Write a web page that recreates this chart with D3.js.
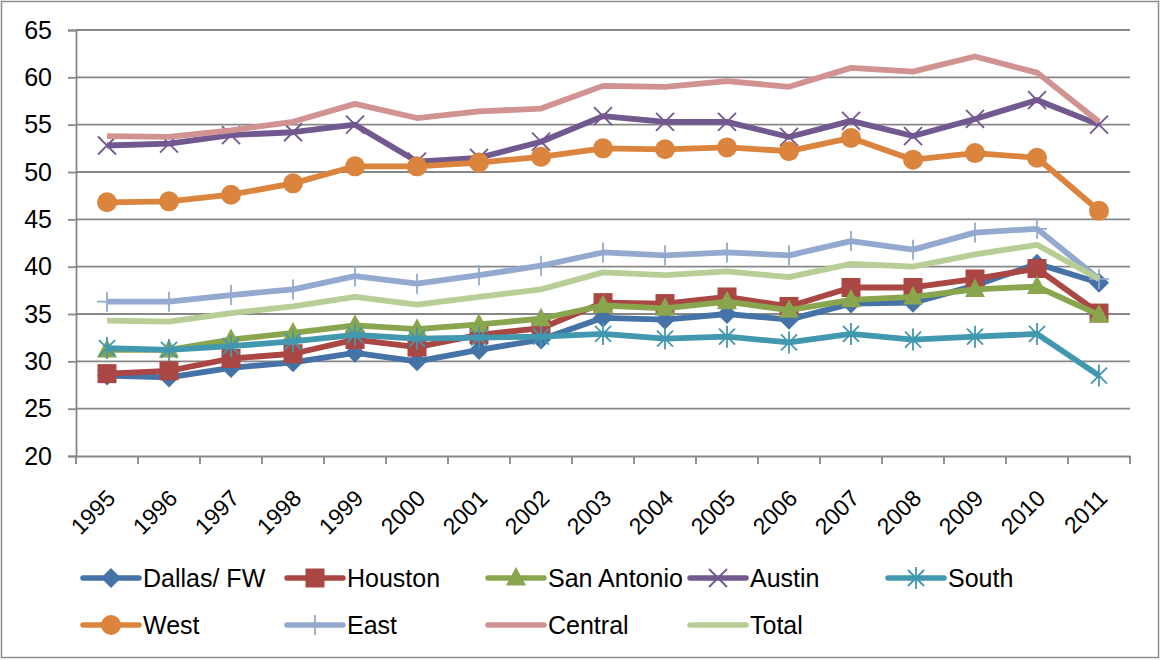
<!doctype html>
<html lang="en">
<head>
  <meta charset="utf-8">
  <style>
    body { margin: 0; background: #fff; }
    svg text { font-family: "Liberation Sans", Arial, sans-serif; fill: #000; }
  </style>
</head>
<body>
  <script src="https://d3js.org/d3.v7.min.js"></script>
  <div id="chart"></div>
  <script>
    // data
    var years = ["1995","1996","1997","1998","1999","2000","2001","2002","2003",
                 "2004","2005","2006","2007","2008","2009","2010","2011"];
    var yTicks = [20, 25, 30, 35, 40, 45, 50, 55, 60, 65];

    var dallas     = [28.5, 28.3, 29.3, 29.9, 30.9, 30.0, 31.2, 32.3, 34.6, 34.4, 35.0, 34.4, 36.1, 36.2, 38.0, 40.3, 38.3];
    var houston    = [28.7, 29.0, 30.3, 30.8, 32.3, 31.5, 32.8, 33.5, 36.2, 36.1, 36.8, 35.8, 37.8, 37.8, 38.7, 39.8, 35.1];
    var sanAntonio = [31.2, 31.2, 32.3, 33.0, 33.8, 33.4, 33.9, 34.5, 35.9, 35.6, 36.3, 35.4, 36.5, 36.8, 37.6, 37.9, 34.9];
    var austin     = [52.8, 53.0, 53.9, 54.2, 55.0, 51.1, 51.5, 53.2, 55.9, 55.3, 55.3, 53.7, 55.4, 53.8, 55.6, 57.6, 55.0];
    var south      = [31.4, 31.2, 31.6, 32.1, 32.8, 32.4, 32.5, 32.6, 32.9, 32.4, 32.6, 32.0, 32.9, 32.3, 32.6, 32.9, 28.5];
    var west       = [46.8, 46.9, 47.6, 48.8, 50.6, 50.6, 51.0, 51.6, 52.5, 52.4, 52.6, 52.2, 53.6, 51.3, 52.0, 51.5, 45.9];
    var east       = [36.3, 36.3, 37.0, 37.6, 39.0, 38.2, 39.1, 40.1, 41.5, 41.2, 41.5, 41.2, 42.7, 41.8, 43.6, 44.0, 38.7];
    var central    = [53.8, 53.7, 54.4, 55.3, 57.2, 55.7, 56.4, 56.7, 59.1, 59.0, 59.6, 59.0, 61.0, 60.6, 62.2, 60.5, 55.3];
    var total      = [34.3, 34.2, 35.1, 35.8, 36.8, 36.0, 36.8, 37.6, 39.4, 39.1, 39.5, 38.9, 40.3, 40.0, 41.3, 42.3, 38.7];

    var series = [
      {name: "Dallas/ FW",  values: dallas,     color: "#4572A7", marker: "diamond"},
      {name: "Houston",     values: houston,    color: "#AA4643", marker: "square"},
      {name: "San Antonio", values: sanAntonio, color: "#89A54E", marker: "triangle"},
      {name: "Austin",      values: austin,     color: "#71588F", marker: "x"},
      {name: "South",       values: south,      color: "#4198AF", marker: "star"},
      {name: "West",        values: west,       color: "#DB843D", marker: "circle"},
      {name: "East",        values: east,       color: "#93A9CF", marker: "plus"},
      {name: "Central",     values: central,    color: "#D19392", marker: "none"},
      {name: "Total",       values: total,      color: "#B9CD96", marker: "none"}
    ];

    var width = 1160, height = 660;
    var plot = {left: 76, right: 1130, top: 30, bottom: 456};

    var svg = d3.select("#chart").append("svg")
                .attr("width", width)
                .attr("height", height);

    // outer frame
    svg.append("rect")
       .attr("x", 1.5).attr("y", 1.5)
       .attr("width", width - 3).attr("height", height - 4)
       .attr("fill", "none").attr("stroke", "#8c8c8c").attr("stroke-width", 1.5);

    var x = d3.scaleBand().domain(years).range([plot.left, plot.right]).padding(0);
    var y = d3.scaleLinear().domain([20, 65]).range([plot.bottom, plot.top]);
    var cx = function(i) { return x(years[i]) + x.bandwidth() / 2; };

    // gridlines
    svg.append("g").selectAll("line").data(yTicks.slice(1)).enter()
       .append("line")
       .attr("x1", plot.left).attr("x2", plot.right)
       .attr("y1", d => y(d)).attr("y2", d => y(d))
       .attr("stroke", "#878787").attr("stroke-width", 1.8);

    // y axis
    var yAxis = svg.append("g")
       .attr("transform", "translate(" + plot.left + ",0)")
       .call(d3.axisLeft(y).tickValues(yTicks).tickSize(8).tickPadding(16));
    yAxis.select(".domain").attr("stroke", "#878787").attr("stroke-width", 1.8);
    yAxis.selectAll(".tick line").attr("stroke", "#878787").attr("stroke-width", 1.8);
    yAxis.selectAll("text").style("font-size", "25px");

    // x axis: ticks at category boundaries
    var xAxis = svg.append("g")
       .attr("transform", "translate(0," + plot.bottom + ")")
       .call(d3.axisBottom(x).tickSize(0).tickFormat(""));
    xAxis.select(".domain").attr("stroke", "#878787").attr("stroke-width", 1.8);
    var bounds = years.map(d => x(d)).concat([plot.right]);
    xAxis.append("g").selectAll("line").data(bounds).enter()
       .append("line")
       .attr("x1", d => d).attr("x2", d => d)
       .attr("y1", 0).attr("y2", 8)
       .attr("stroke", "#878787").attr("stroke-width", 1.8);
    xAxis.append("g").selectAll("text").data(years).enter()
       .append("text")
       .attr("transform", d => "translate(" + (x(d) + x.bandwidth() / 2 + 4) + ",38) rotate(-45)")
       .attr("text-anchor", "end")
       .attr("dy", "0.35em")
       .style("font-size", "23px")
       .text(d => d);

    // marker shapes
    function markerPath(type) {
      switch (type) {
        case "diamond":  return "M0,-10L10,0L0,10L-10,0Z";
        case "square":   return "M-9.5,-9.5H9.5V9.5H-9.5Z";
        case "triangle": return "M0,-11L10,7.5L-10,7.5Z";
        case "circle":   return "M-10,0A10,10 0 1,0 10,0A10,10 0 1,0 -10,0Z";
        case "x":        return "M-9,-9L9,9M-9,9L9,-9";
        case "star":     return "M-8,-8L8,8M-8,8L8,-8M0,-11V11";
        case "plus":     return "M0,-10V10M-10,0H10";
        default:         return "";
      }
    }
    var filled = {diamond: true, square: true, triangle: true, circle: true};

    var line = d3.line().x((d, i) => cx(i)).y(d => y(d));

    series.forEach(function(s) {
      var g = svg.append("g");
      g.append("path")
       .attr("d", line(s.values))
       .attr("fill", "none")
       .attr("stroke", s.color)
       .attr("stroke-width", 5.8)
       .attr("stroke-linejoin", "round");
      if (s.marker !== "none") {
        g.selectAll(".m").data(s.values).enter()
         .append("path")
         .attr("class", "m")
         .attr("transform", (d, i) => "translate(" + cx(i) + "," + y(d) + ")")
         .attr("d", markerPath(s.marker))
         .attr("fill", filled[s.marker] ? s.color : "none")
         .attr("stroke", s.color)
         .attr("stroke-width", filled[s.marker] ? 0 : 1.8);
      }
    });

    // legend
    var legendCols = [83, 287, 488, 690, 888];
    var legendRows = [578, 625];
    var perRow = 5;
    var legend = svg.append("g");
    series.forEach(function(s, i) {
      var row = i < perRow ? 0 : 1;
      var col = i < perRow ? i : i - perRow;
      var item = legend.append("g")
        .attr("transform", "translate(" + legendCols[col] + "," + legendRows[row] + ")");
      item.append("line")
        .attr("x1", 0).attr("x2", 56).attr("y1", 0).attr("y2", 0)
        .attr("stroke", s.color).attr("stroke-width", 5.5)
        .attr("stroke-linecap", "round");
      if (s.marker !== "none") {
        item.append("path")
          .attr("transform", "translate(28,0)")
          .attr("d", markerPath(s.marker))
          .attr("fill", filled[s.marker] ? s.color : "none")
          .attr("stroke", s.color)
          .attr("stroke-width", filled[s.marker] ? 0 : 1.8);
      }
      item.append("text")
        .attr("x", 60).attr("y", 0).attr("dy", "0.35em")
        .style("font-size", "25px")
        .text(s.name);
    });
  </script>
</body>
</html>
